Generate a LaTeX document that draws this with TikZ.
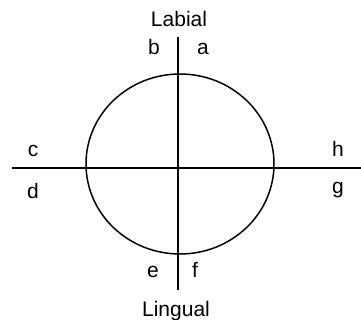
\documentclass[tikz,border=0pt]{standalone}
\usepackage{fontspec}
\setmainfont{Liberation Sans}
\usetikzlibrary{positioning}
\tikzset{
  ejeLinea/.style={line width=1.3pt, black},
  contorno/.style={line width=1.5pt, black},
  letra/.style={font=\fontsize{21}{25}\selectfont, anchor=base, inner sep=0pt},
  rotulo/.style={letra},
}
\begin{document}
\begin{tikzpicture}[x=1pt,y=-1pt]
  \useasboundingbox (0,0) rectangle (361,320);
  % circulo
  \node[draw=none, inner sep=0pt] (centro) at (180,164) {};
  \draw[contorno] (centro) ellipse [x radius=94, y radius=90];
  % ejes
  \coordinate (ejeArriba) at (178,37);
  \coordinate (ejeAbajo) at (178,290);
  \coordinate (ejeIzq) at (12,168);
  \coordinate (ejeDer) at (361,168);
  \draw[ejeLinea] (ejeArriba) -- (ejeAbajo);
  \draw[ejeLinea] (ejeIzq) -- (ejeDer);
  % rotulos
  \node[rotulo] (labial) at (179,27) {Labial};
  \node[rotulo] (lingual) at (176,316) {Lingual};
  % cuadrantes
  \node[letra] (b) at (154,55) {b};
  \node[letra] (a) at (203,55) {a};
  \node[letra] (c) at (33,157) {c};
  \node[letra] (d) at (33,199) {d};
  \node[letra] (h) at (338,157) {h};
  \node[letra] (g) at (338,194) {g};
  \node[letra] (e) at (153,277) {e};
  \node[letra] (f) at (195,277) {f};
\end{tikzpicture}
\end{document}
